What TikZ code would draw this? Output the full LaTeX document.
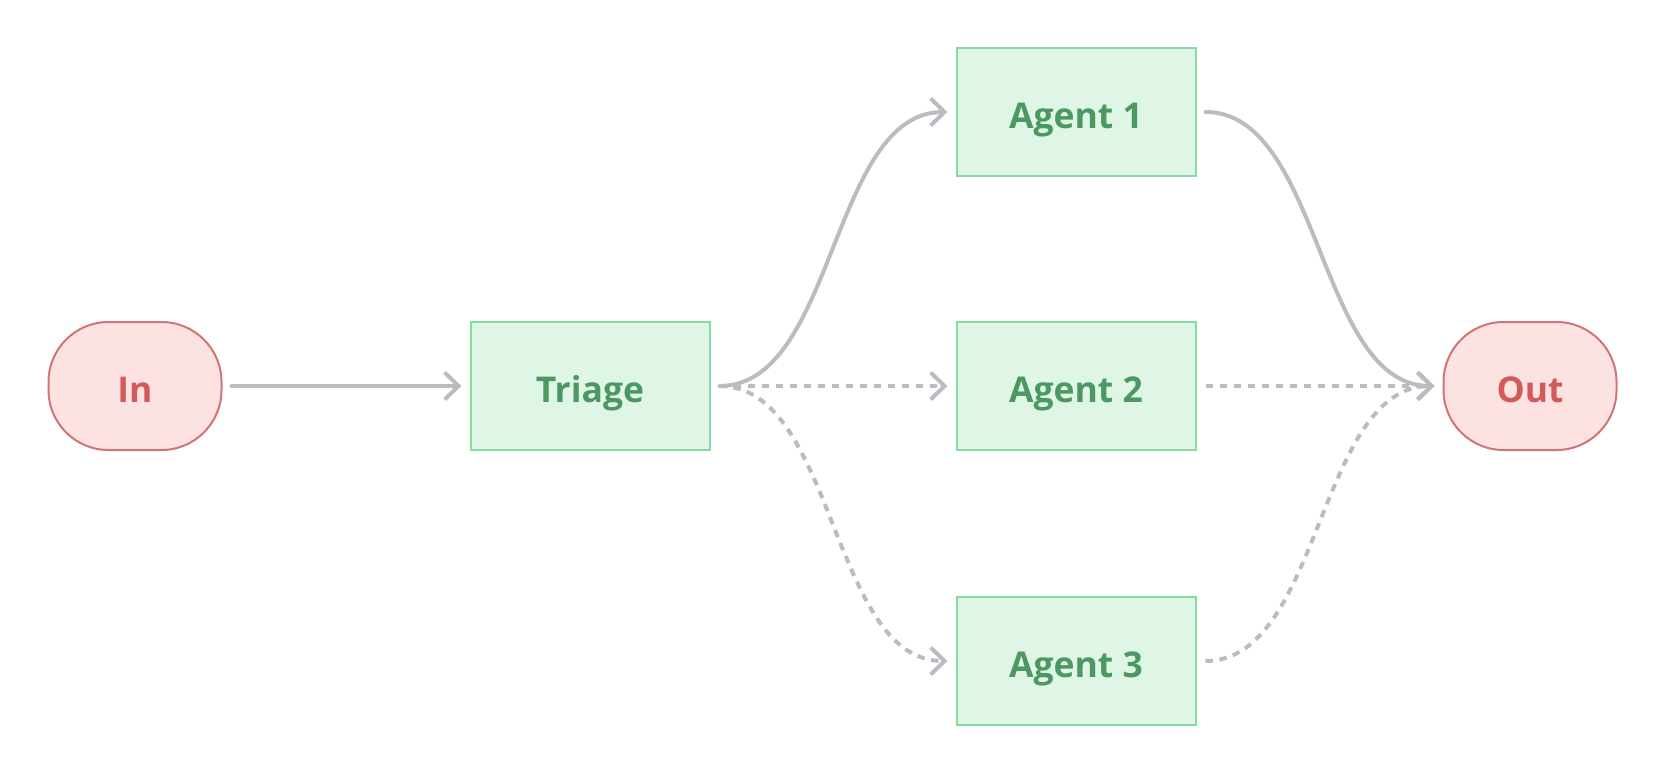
\documentclass[tikz,border=0pt]{standalone}
\usepackage{fontspec}
\setmainfont{Open Sans}
\usetikzlibrary{arrows.meta}
\definecolor{edgegray}{HTML}{BBBCC1}
\definecolor{redfill}{HTML}{FDE2E2}
\definecolor{redline}{HTML}{D07575}
\definecolor{redtext}{HTML}{D45A5A}
\definecolor{greenfill}{HTML}{DFF5E5}
\definecolor{greenline}{HTML}{86DC9C}
\definecolor{greentext}{HTML}{4C9862}
\tikzset{
  x=1pt, y=-1pt,
  lbl/.style={font=\fontsize{35.5}{40}\selectfont\bfseries, text depth=0pt, text height=0pt,
    inner sep=0pt, yshift=-16pt},
  terminal/.style={draw=redline, fill=redfill, line width=2pt, rounded corners=60pt,
    minimum width=173pt, minimum height=128pt, inner sep=0pt},
  agentbox/.style={draw=greenline, fill=greenfill, line width=2pt,
    minimum width=239pt, minimum height=128pt, inner sep=0pt},
  link/.style={draw=edgegray, line width=4pt, line cap=round,
    -{Straight Barb[length=14pt,width=27pt,line width=4pt]},
    shorten <=9pt, shorten >=8pt},
  dlink/.style={link, dash pattern=on 7.5pt off 6.5pt, line cap=butt}
}
\begin{document}
\begin{tikzpicture}
\useasboundingbox (0,0) rectangle (1668,774);
\node[terminal] (in) at (135,386) {};
\node[agentbox] (tr) at (590,386) {};
\node[agentbox] (a1) at (1076,112) {};
\node[agentbox] (a2) at (1076,386) {};
\node[agentbox] (a3) at (1076,661) {};
\node[terminal] (out) at (1530,386) {};
\node[lbl, text=redtext] (inl) at (in.center) {In};
\node[lbl, text=greentext] (trl) at (tr.center) {Triage};
\node[lbl, text=greentext] (a1l) at (a1.center) {Agent 1};
\node[lbl, text=greentext] (a2l) at (a2.center) {Agent 2};
\node[lbl, text=greentext] (a3l) at (a3.center) {Agent 3};
\node[lbl, text=redtext] (outl) at (out.center) {Out};

\draw[link] (in.east) -- (tr.west);
\draw[link] (tr.east) .. controls +(125,0) and +(-125,0) .. (a1.west);
\draw[dlink] (tr.east) -- (a2.west);
\draw[dlink] (tr.east) .. controls +(125,0) and +(-125,0) .. (a3.west);
\draw[link] (a1.east) .. controls +(125,0) and +(-125,0) .. (out.west);
\draw[dlink] (a2.east) -- (out.west);
\draw[dlink] (a3.east) .. controls +(125,0) and +(-125,0) .. (out.west);
\end{tikzpicture}
\end{document}
